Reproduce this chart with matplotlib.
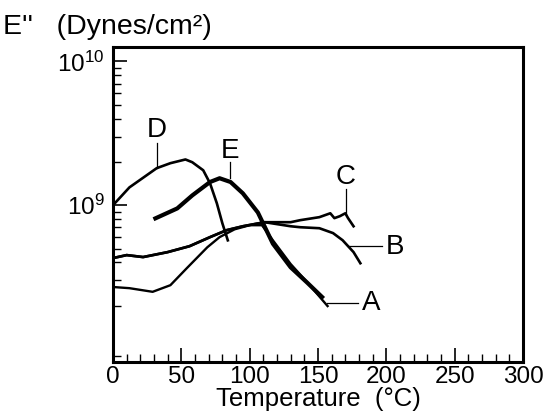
import matplotlib
matplotlib.use("Agg")
import matplotlib.pyplot as plt
from matplotlib.ticker import FixedLocator, LogLocator, NullFormatter, MultipleLocator
import numpy as np

plt.rcParams["font.family"] = ["Liberation Sans", "DejaVu Sans"]
plt.rcParams["mathtext.fontset"] = "custom"
plt.rcParams["mathtext.rm"] = "Liberation Sans"
plt.rcParams["mathtext.it"] = "Liberation Sans"

# curve D
temp_d = [0, 12, 32, 42, 53, 58, 66, 71, 76, 80, 84]
e_d = [1.0e9, 1.33e9, 1.81e9, 1.96e9, 2.08e9, 1.99e9, 1.75e9, 1.42e9, 1.03e9, 7.5e8, 5.7e8]

# curve E
temp_e = [31, 47, 58, 71, 78, 86, 95, 106, 117, 130, 142, 153]
e_e = [8.1e8, 9.5e8, 1.17e9, 1.45e9, 1.54e9, 1.45e9, 1.21e9, 8.9e8, 5.4e8, 3.7e8, 2.9e8, 2.3e8]

# curve A
temp_a = [0, 12, 29, 42, 54, 69, 78, 89, 100, 109, 117, 130, 142, 157]
e_a = [2.7e8, 2.65e8, 2.5e8, 2.78e8, 3.65e8, 5.1e8, 6.0e8, 6.8e8, 7.26e8, 7.26e8, 5.7e8, 3.9e8, 2.92e8, 1.99e8]

# curve B
temp_b = [0, 10, 22, 40, 56, 71, 83, 95, 111, 130, 137, 151, 161, 168, 176, 181]
e_b = [4.29e8, 4.5e8, 4.36e8, 4.72e8, 5.19e8, 6.0e8, 6.7e8, 7.14e8, 7.62e8, 7.14e8, 7.03e8, 6.92e8, 6.4e8, 5.71e8, 4.72e8, 3.95e8]

# curve C
temp_c = [0, 10, 22, 40, 56, 71, 83, 95, 111, 130, 137, 151, 159, 162, 166, 170, 172, 176]
e_c = [4.29e8, 4.5e8, 4.36e8, 4.72e8, 5.19e8, 6.0e8, 6.7e8, 7.14e8, 7.62e8, 7.62e8, 7.87e8, 8.26e8, 8.79e8, 8.13e8, 8.39e8, 8.79e8, 8.13e8, 7.14e8]

# curve labels: (text x, text y, pointer start, pointer end)
labels = {
    "D": (32, 10**9.52, (32, 10**9.43), (32, 10**9.257)),
    "E": (85.6, 10**9.38, (85.6, 10**9.30), (85.6, 10**9.188)),
    "C": (170.4, 10**9.194, (170.4, 10**9.11), (170.4, 10**8.93)),
    "B": (206, 10**8.708, (197, 10**8.715), (172, 10**8.715)),
    "A": (188.7, 10**8.32, (179, 10**8.32), (156.5, 10**8.32)),
}

fig = plt.figure(figsize=(5.47, 4.17), dpi=100)
ax = fig.add_axes([0.2066, 0.1319, 0.7495, 0.7554])

ax.plot(temp_d, e_d, color="black", linewidth=1.9)
ax.plot(temp_e, e_e, color="black", linewidth=3.0)
ax.plot(temp_a, e_a, color="black", linewidth=1.7)
ax.plot(temp_b, e_b, color="black", linewidth=1.9)
ax.plot(temp_c, e_c, color="black", linewidth=1.9)

for name, (tx, ty, p0, p1) in labels.items():
    ax.text(tx, ty, name, fontsize=20, ha="center", va="center")
    ax.plot([p0[0], p1[0]], [p0[1], p1[1]], color="black", linewidth=0.9)

ax.set_yscale("log")
ax.set_xlim(0, 300)
ax.set_ylim(10**7.91, 10**10.1)

ax.xaxis.set_major_locator(MultipleLocator(50))
ax.xaxis.set_minor_locator(MultipleLocator(10))
ax.yaxis.set_major_locator(FixedLocator([1e9, 1e10]))
ax.yaxis.set_minor_locator(LogLocator(base=10, subs=np.arange(2, 10)))
ax.yaxis.set_minor_formatter(NullFormatter())
ax.set_yticklabels([r"$10^{9}$", r"$10^{10}$"])

ax.tick_params(axis="both", which="both", direction="in", top=False, right=False)
ax.tick_params(axis="both", which="major", length=10, width=1.2, labelsize=17.5, pad=3)
ax.tick_params(axis="y", which="major", pad=6)
ax.tick_params(axis="both", which="minor", length=6, width=1.0)

for s in ax.spines.values():
    s.set_linewidth(2.2)

ax.set_xlabel("Temperature  (°C)", fontsize=18.5, labelpad=-1)
fig.text(0.005, 0.905, "E''   (Dynes/cm²)", fontsize=20.5, ha="left", va="bottom")

fig.savefig("out.png", dpi=100)
